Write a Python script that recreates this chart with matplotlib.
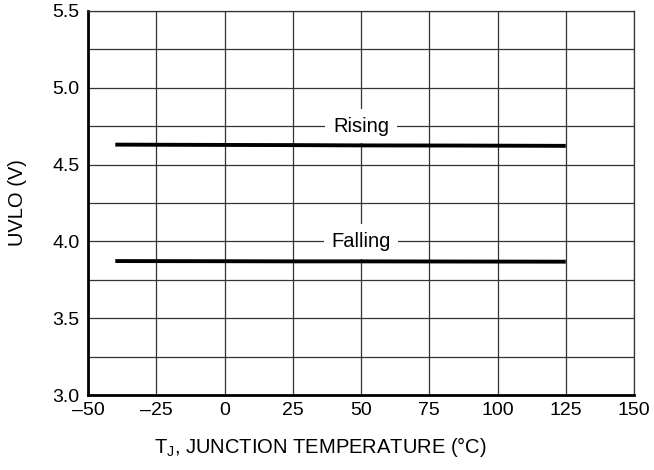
import matplotlib
matplotlib.use("Agg")
import matplotlib.pyplot as plt
import numpy as np

plt.rcParams['font.family'] = ['Liberation Sans', 'DejaVu Sans']

temps = [-40, 0, 25, 50, 85, 125]
rising = [4.63, 4.628, 4.627, 4.625, 4.624, 4.622]
falling = [3.872, 3.871, 3.870, 3.870, 3.869, 3.868]
xticks = [-50, -25, 0, 25, 50, 75, 100, 125, 150]
xticklabels = ['\u201350', '\u201325', '0', '25', '50', '75', '100', '125', '150']
yticks = [3.0, 3.5, 4.0, 4.5, 5.0, 5.5]
yticklabels = ['3.0', '3.5', '4.0', '4.5', '5.0', '5.5']

fig = plt.figure(figsize=(6.54, 4.70), dpi=100)
ax = fig.add_axes([88/654, 1 - 395/470, (634-88)/654, (395-11)/470])

ax.set_xlim(-50, 150)
ax.set_ylim(3.0, 5.5)
ax.set_xticks(xticks)
ax.set_xticklabels(xticklabels)
ax.set_yticks(yticks)
ax.set_yticklabels(yticklabels)
ax.set_yticks(np.arange(3.0, 5.51, 0.25), minor=True)
ax.tick_params(which='both', length=0, labelsize=14, colors='black')
ax.tick_params(axis='x', pad=5)
ax.tick_params(axis='y', pad=6)
ax.grid(True, which='both', color='#333333', linewidth=0.9)
ax.set_axisbelow(True)

for s in ['top', 'right']:
    ax.spines[s].set_linewidth(0.9)
    ax.spines[s].set_color('#333333')
for s in ['left', 'bottom']:
    ax.spines[s].set_linewidth(2.0)
    ax.spines[s].set_color('black')

ax.plot(temps, rising, color='black', linewidth=2.8, solid_capstyle='butt', zorder=3)
ax.plot(temps, falling, color='black', linewidth=2.8, solid_capstyle='butt', zorder=3)

ax.text(50, 4.75, 'Rising', ha='center', va='center', fontsize=14.5,
        bbox=dict(facecolor='white', edgecolor='none', pad=5.5), zorder=4)
ax.text(50, 4.0, 'Falling', ha='center', va='center', fontsize=14.5,
        bbox=dict(facecolor='white', edgecolor='none', pad=5.5), zorder=4)

ax.set_xlabel('T$_\\mathregular{J}$, JUNCTION TEMPERATURE (\u00b0C)', fontsize=14.5)
ax.xaxis.set_label_coords((320 - 88) / 546, -(447 - 395) / 384)
ax.xaxis.label.set_va('center')
ax.set_ylabel('UVLO (V)', fontsize=14.5)
ax.yaxis.set_label_coords(-(88 - 18) / 546, 0.5)
ax.yaxis.label.set_va('center')

fig.savefig('out.png', dpi=100)
